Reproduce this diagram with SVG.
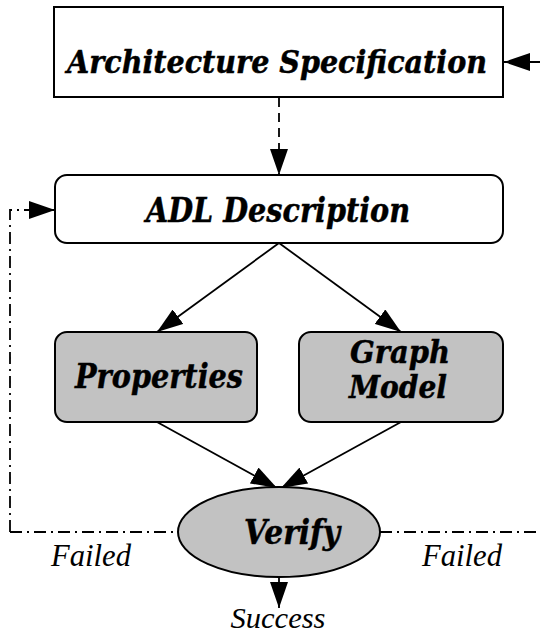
<svg xmlns="http://www.w3.org/2000/svg" width="540" height="635" viewBox="0 0 540 635">
<defs>
<style>
.box{fill:#fff;stroke:#000;stroke-width:2}
.gray{fill:#c2c2c2;stroke:#000;stroke-width:2}
.lbl{font-family:"DejaVu Serif","Liberation Serif",serif;font-weight:bold;font-style:italic;fill:#000;stroke:#000;stroke-width:0.5;text-anchor:middle}
.it{font-family:"Liberation Serif","Times New Roman",serif;font-style:italic;fill:#000;text-anchor:middle}
.ln{fill:none;stroke:#000;stroke-width:1.8}
.dash{stroke-dasharray:9 6}
.dd{stroke-dasharray:12 5 2 5}
</style>
<marker id="ah" markerUnits="userSpaceOnUse" markerWidth="26" markerHeight="18" viewBox="0 0 26 18" refX="26" refY="9" orient="auto">
<path d="M0,0 L26,9 L0,18 Z" fill="#000"/>
</marker>
</defs>
<g id="connectors">
<path class="ln" d="M540,62 L504,62" marker-end="url(#ah)"/>
<path class="ln dash" d="M279,98 L279,175" marker-end="url(#ah)"/>
<path class="ln dd" d="M10,532 L10,210 L55,210" marker-end="url(#ah)"/>
<path class="ln dd" d="M10,532 L178,532"/>
<path class="ln dd" d="M380,532 L540,532"/>
<path class="ln" d="M279,243 L157,332" marker-end="url(#ah)"/>
<path class="ln" d="M279,243 L401,332" marker-end="url(#ah)"/>
<path class="ln" d="M157,422 L277,488" marker-end="url(#ah)"/>
<path class="ln" d="M401,422 L281,488" marker-end="url(#ah)"/>
<path class="ln" d="M279,577 L279,608" marker-end="url(#ah)"/>
</g>
<g id="arch">
<rect class="box" x="54" y="7" width="449" height="90"/>
<text class="lbl" x="277" y="73" font-size="32" textLength="420" lengthAdjust="spacingAndGlyphs">Architecture Specification</text>
</g>
<g id="adl">
<rect class="box" x="55" y="175" width="448" height="68" rx="12"/>
<text class="lbl" x="278" y="222" font-size="33" textLength="264" lengthAdjust="spacingAndGlyphs">ADL Description</text>
</g>
<g id="properties">
<rect class="gray" x="55" y="332" width="202" height="90" rx="12"/>
<text class="lbl" x="159" y="388" font-size="33" textLength="168" lengthAdjust="spacingAndGlyphs">Properties</text>
</g>
<g id="graphmodel">
<rect class="gray" x="299" y="332" width="204" height="90" rx="12"/>
<text class="lbl" x="400" y="363" font-size="32" textLength="100" lengthAdjust="spacingAndGlyphs">Graph</text>
<text class="lbl" x="398" y="398" font-size="32" textLength="98" lengthAdjust="spacingAndGlyphs">Model</text>
</g>
<g id="verify">
<ellipse class="gray" cx="279" cy="532" rx="101" ry="45"/>
<text class="lbl" x="292" y="544" font-size="33" textLength="96" lengthAdjust="spacingAndGlyphs">Verify</text>
</g>
<g id="labels">
<text class="it" x="91" y="566" font-size="31" textLength="80" lengthAdjust="spacingAndGlyphs">Failed</text>
<text class="it" x="462" y="566" font-size="31" textLength="80" lengthAdjust="spacingAndGlyphs">Failed</text>
<text class="it" x="278" y="628" font-size="30" textLength="95" lengthAdjust="spacingAndGlyphs">Success</text>
</g>
</svg>
